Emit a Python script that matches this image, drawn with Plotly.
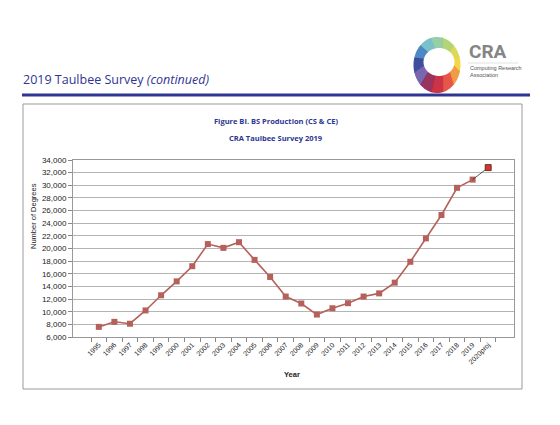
import numpy as np
import plotly.graph_objects as go

# BS production (CS & CE)
years = ['1995', '1996', '1997', '1998', '1999', '2000', '2001', '2002', '2003',
         '2004', '2005', '2006', '2007', '2008', '2009', '2010', '2011', '2012',
         '2013', '2014', '2015', '2016', '2017', '2018', '2019']
degrees = [7600, 8400, 8100, 10200, 12600, 14800, 17200, 20700, 20100,
           21000, 18200, 15500, 12400, 11300, 9550, 10550, 11350, 12400,
           12900, 14600, 17900, 21600, 25300, 29600, 30900]
proj_year = '2020proj'
proj_value = 32800
ytick_vals = list(range(6000, 34001, 2000))

navy = '#2e3592'
line_col = '#b5605a'

# plot area in px: x 73..514, y 160..337 (page 560x425)
L, R, T, B = 73, 514, 160, 337
def px(x): return (x - L) / (R - L)
def py(y): return (B - y) / (B - T)

fig = go.Figure()
fig.add_trace(go.Scatter(x=years, y=degrees, mode='lines+markers',
                         line=dict(color=line_col, width=1.6),
                         marker=dict(symbol='square', size=6, color=line_col),
                         hoverinfo='x+y'))
fig.add_trace(go.Scatter(x=[years[-1], proj_year], y=[degrees[-1], proj_value],
                         mode='lines', line=dict(color='#333333', width=0.8),
                         hoverinfo='skip'))
fig.add_trace(go.Scatter(x=[proj_year], y=[proj_value], mode='markers',
                         marker=dict(symbol='square', size=6, color='#d2382a',
                                     line=dict(color='#5a1a14', width=0.8)),
                         hoverinfo='x+y'))

shapes = []
# chart frame
shapes.append(dict(type='rect', xref='paper', yref='paper', x0=px(23), x1=px(522),
                   y0=py(389), y1=py(104), line=dict(color='#9a9a9a', width=1),
                   layer='below'))
# header rule
shapes.append(dict(type='line', xref='paper', yref='paper', x0=px(22), x1=px(530),
                   y0=py(95), y1=py(95), line=dict(color=navy, width=3)))
# thin rule under CRA
shapes.append(dict(type='line', xref='paper', yref='paper', x0=px(468), x1=px(518),
                   y0=py(63), y1=py(63), line=dict(color='#cccccc', width=0.6)))

# CRA logo ring, built from coloured sectors of a lopsided ellipse ring
ring_cols = ['#f4d23a', '#d6d64c', '#aed16a', '#8fcaa0', '#6fbcc6', '#3f7fc0',
             '#2c3f94', '#6c5aa8', '#8e2450', '#c72236', '#e4483a', '#f09236']
n = len(ring_cols)
orx, ory = 23.5, 28
irx, iry = 15.5, 14
off = (2.0, 3.0)
for i, c in enumerate(ring_cols):
    a0 = np.radians(i * 360 / n - 15)
    a1 = np.radians((i + 1) * 360 / n - 15 + 2)
    t = np.linspace(a0, a1, 12)
    outer = [(orx * np.cos(a), ory * np.sin(a)) for a in t]
    inner = [(off[0] + irx * np.cos(a), off[1] + iry * np.sin(a)) for a in t[::-1]]
    pts = outer + inner
    path = 'M ' + ' L '.join(f'{x:.2f},{y:.2f}' for x, y in pts) + ' Z'
    shapes.append(dict(type='path', xref='paper', yref='paper',
                       xsizemode='pixel', ysizemode='pixel',
                       xanchor=px(437), yanchor=py(65), path=path,
                       fillcolor=c, line=dict(width=0), opacity=0.92))

ann = []
ann.append(dict(text='2019 Taulbee Survey <i>(continued)</i>', x=px(21), y=py(79),
                xref='paper', yref='paper', xanchor='left', yanchor='middle',
                showarrow=False, font=dict(family='Open Sans', size=12.5, color=navy)))
ann.append(dict(text='<b>CRA</b>', x=px(467), y=py(51), xref='paper', yref='paper',
                xanchor='left', yanchor='middle', showarrow=False,
                font=dict(family='Roboto', size=19, color='#858585')))
ann.append(dict(text='Computing Research<br>Association', x=px(468), y=py(72),
                xref='paper', yref='paper', xanchor='left', yanchor='middle',
                align='left', showarrow=False,
                font=dict(family='Liberation Sans', size=5.5, color='#555555')))
ann.append(dict(text='<b>Figure BI. BS Production (CS &amp; CE)</b>', x=px(276), y=py(121),
                xref='paper', yref='paper', xanchor='center', yanchor='middle',
                showarrow=False, font=dict(family='Open Sans', size=7.5, color=navy)))
ann.append(dict(text='<b>CRA Taulbee Survey 2019</b>', x=px(276), y=py(138),
                xref='paper', yref='paper', xanchor='center', yanchor='middle',
                showarrow=False, font=dict(family='Open Sans', size=7.5, color=navy)))
ann.append(dict(text='Number of Degrees', x=px(33), y=py(216), xref='paper', yref='paper',
                textangle=-90, xanchor='center', yanchor='middle', showarrow=False,
                font=dict(family='Liberation Sans', size=7.5, color='#222222')))
ann.append(dict(text='<b>Year</b>', x=px(292), y=py(374), xref='paper', yref='paper',
                xanchor='center', yanchor='middle', showarrow=False,
                font=dict(family='Liberation Sans', size=7.5, color='#222222')))

fig.update_layout(
    width=560, height=425,
    margin=dict(l=L, r=560 - R, t=T, b=425 - B),
    paper_bgcolor='white', plot_bgcolor='white',
    showlegend=False,
    shapes=shapes, annotations=ann,
    xaxis=dict(type='category', categoryorder='array', categoryarray=years + [proj_year],
               tickangle=-45, tickson='boundaries', ticks='outside', ticklen=4,
               tickcolor='#888888', showline=True, linecolor='#999999', linewidth=1,
               mirror=True, showgrid=False,
               tickfont=dict(family='Liberation Sans', size=7, color='#222222')),
    yaxis=dict(range=[6000, 34000], tickvals=ytick_vals, tickformat=',d',
               ticks='outside', ticklen=4, tickcolor='#888888',
               showline=True, linecolor='#999999', linewidth=1, mirror=True,
               gridcolor='#b4b4b4', gridwidth=1.2, zeroline=False,
               tickfont=dict(family='Liberation Sans', size=8, color='#222222')),
)

# drop the default page margin so the figure sits at the window's corner
fig.write_html('out.html', config={'displayModeBar': False},
               post_script="document.body.style.margin='0';")
